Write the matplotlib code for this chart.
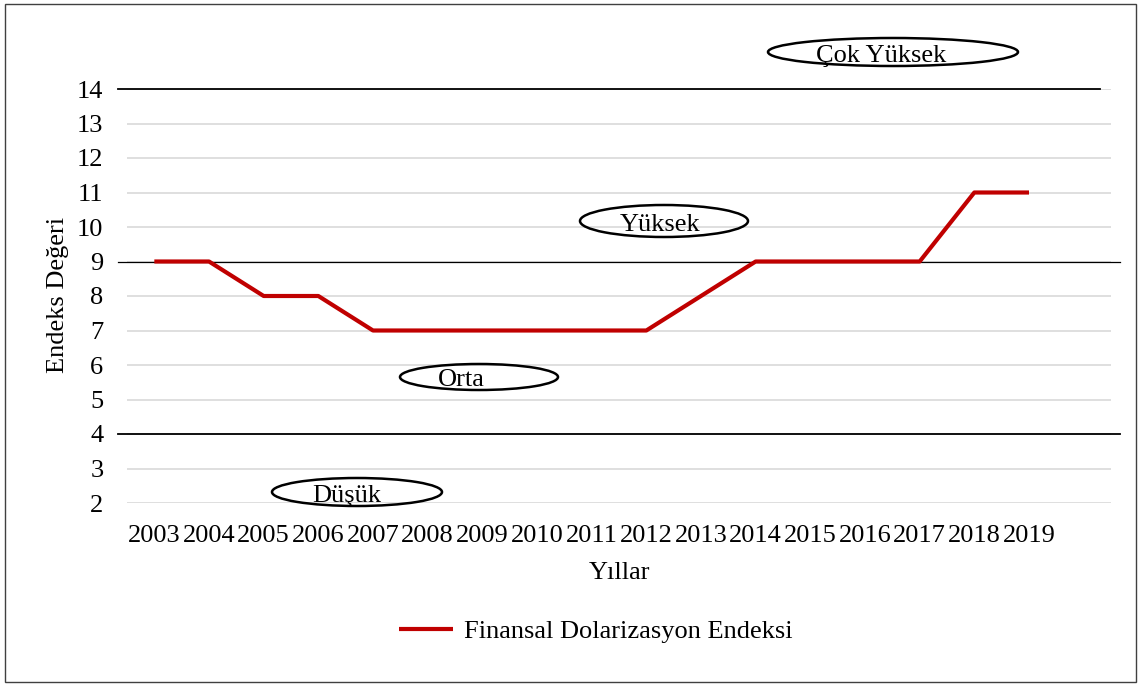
import matplotlib.pyplot as plt
from matplotlib.patches import Ellipse, Rectangle

plt.rcParams['font.family'] = ['Liberation Serif', 'DejaVu Serif']

# data
years = ['2003', '2004', '2005', '2006', '2007', '2008', '2009', '2010', '2011',
         '2012', '2013', '2014', '2015', '2016', '2017', '2018', '2019']
endeks = [9, 9, 8, 8, 7, 7, 7, 7, 7, 7, 8, 9, 9, 9, 9, 11, 11]
yticks = list(range(2, 15))
# zone labels: text, ellipse centre (px), ellipse size (px), text offset (px)
zones = [
    ('Çok Yüksek', (893, 52), (250, 28), (-12, 4)),
    ('Yüksek', (664, 221), (168, 32), (-4, 4)),
    ('Orta', (479, 377), (158, 26), (-18, 3)),
    ('Düşük', (357, 492), (170, 28), (-10, 4)),
]
FS = 19

W, H = 1140, 684
fig = plt.figure(figsize=(W / 100, H / 100), dpi=100)
ax = fig.add_axes([127 / W, 1 - 503 / H, 984 / W, (503 - 89) / H])

x = list(range(len(years)))
ax.plot(x, endeks, color='#C00000', lw=3, solid_capstyle='butt',
        label='Finansal Dolarizasyon Endeksi', zorder=4)

ax.set_xlim(-0.5, len(years) + 0.5)
ax.set_ylim(2, 14)
ax.set_yticks(yticks)
ax.set_xticks(x)
ax.set_xticklabels(years)
ax.tick_params(axis='y', length=0, labelsize=FS, pad=17)
ax.tick_params(axis='x', length=0, labelsize=FS, pad=16)
ax.grid(axis='y', color='#D9D9D9', lw=1.2)
ax.set_axisbelow(True)
for s in ax.spines.values():
    s.set_visible(False)

# black threshold lines
ax.axhline(14, xmin=-0.009, xmax=0.989, color='black', lw=1.3, clip_on=False, zorder=3)
ax.axhline(9, xmin=-0.009, xmax=1.009, color='black', lw=0.9, clip_on=False, zorder=3)
ax.axhline(4, xmin=-0.009, xmax=1.009, color='black', lw=1.3, clip_on=False, zorder=3)

fig.text(620 / W, 1 - 573 / H, 'Yıllar', ha='center', va='center', fontsize=FS)
fig.text(58 / W, 1 - 295 / H, 'Endeks Değeri', ha='center', va='center',
         rotation=90, fontsize=FS)

for name, (cx, cy), (ew, eh), (dx, dy) in zones:
    fig.add_artist(Ellipse((cx / W, 1 - cy / H), ew / W, eh / H,
                           transform=fig.transFigure, fill=False,
                           ec='black', lw=1.8))
    fig.text((cx + dx) / W, 1 - (cy + dy) / H, name, ha='center', va='center',
             fontsize=FS)

fig.legend(loc='center', bbox_to_anchor=(596 / W, 1 - 631 / H), frameon=False,
           fontsize=FS, handlelength=2.05, handletextpad=0.4)

fig.add_artist(Rectangle((5 / W, 2 / H), 1131 / W, 678 / H,
                         transform=fig.transFigure, fill=False,
                         ec='#404040', lw=1.0))

fig.savefig('out.png', dpi=100)
